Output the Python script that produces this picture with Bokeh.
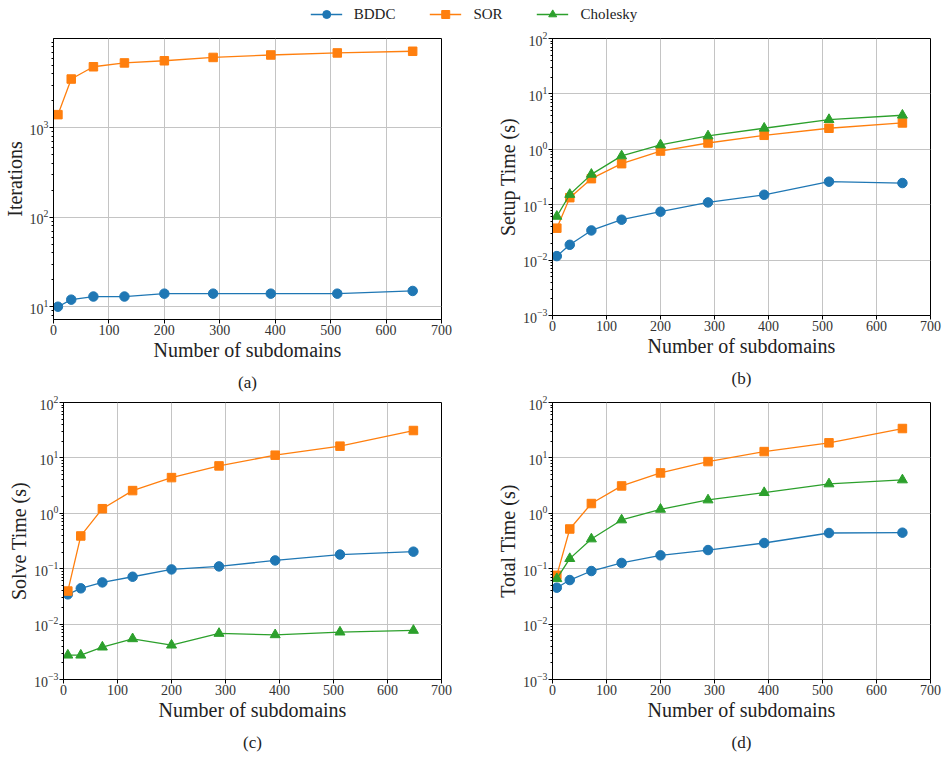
import math
from bokeh.plotting import figure
from bokeh.layouts import column, row
from bokeh.models import (Range1d, ColumnDataSource, Legend, LegendItem,
                          LogTicker, FixedTicker)
from bokeh.embed import file_html
from bokeh.resources import INLINE

# ---------------- data ----------------
subdomains = [8, 32, 72, 128, 200, 288, 392, 512, 648]

iter_bddc = [10, 12, 13, 13, 14, 14, 14, 14, 15]
iter_sor = [1400, 3500, 4800, 5300, 5600, 6100, 6500, 6850, 7150]

setup_bddc = [0.0118, 0.0189, 0.0343, 0.0536, 0.0747, 0.110, 0.151, 0.26, 0.246]
setup_sor = [0.0377, 0.134, 0.295, 0.55, 0.93, 1.3, 1.79, 2.4, 2.99]
setup_chol = [0.0616, 0.153, 0.353, 0.76, 1.2, 1.74, 2.4, 3.44, 4.12]

solve_bddc = [0.0344, 0.0442, 0.0566, 0.0716, 0.097, 0.110, 0.141, 0.18, 0.203]
solve_sor = [0.0395, 0.39, 1.21, 2.57, 4.41, 7.17, 11.2, 16.3, 31.2]
solve_chol = [0.00275, 0.00275, 0.00384, 0.00543, 0.00417, 0.00678, 0.00641, 0.00717, 0.00769]

total_bddc = [0.0454, 0.0624, 0.0908, 0.127, 0.174, 0.217, 0.291, 0.441, 0.447]
total_sor = [0.0758, 0.521, 1.5, 3.12, 5.36, 8.58, 13.0, 18.7, 33.9]
total_chol = [0.066, 0.152, 0.344, 0.758, 1.18, 1.74, 2.36, 3.39, 4.0]

x_ticks = [0, 100, 200, 300, 400, 500, 600, 700]
series_names = ["BDDC", "SOR", "Cholesky"]
colors = ["#1f77b4", "#ff7f0e", "#2ca02c"]
markers = ["circle", "square", "triangle"]
msizes = [9.5, 8.5, 10]

FONT = "Liberation Serif"
LW = 1.3


def make_panel(ylabel, caption, series, yr, bl, fw, br, bt, fh, bb):
    p = figure(frame_width=fw, frame_height=fh, y_axis_type="log",
               x_range=Range1d(0, 700), y_range=Range1d(*yr),
               output_backend="svg", toolbar_location=None,
               min_border_left=bl, min_border_right=br,
               min_border_top=bt, min_border_bottom=bb,
               title=caption, title_location="below")
    p.title.align = "center"
    p.title.text_font = FONT
    p.title.text_font_size = "17px"
    p.title.text_font_style = "normal"
    p.title.text_color = "#222222"
    p.title.standoff = 14
    p.outline_line_color = "black"
    p.outline_line_width = 1
    p.background_fill_color = "white"
    p.border_fill_color = "white"
    for ax in (p.xaxis, p.yaxis):
        ax.axis_line_color = "black"
        ax.major_tick_line_color = "black"
        ax.major_tick_out = 4
        ax.major_tick_in = 0
        ax.minor_tick_out = 2
        ax.minor_tick_in = 0
        ax.major_label_text_font = FONT
        ax.major_label_text_font_size = "14px"
        ax.major_label_text_color = "#333333"
        ax.axis_label_text_font = FONT
        ax.axis_label_text_font_size = "20px"
        ax.axis_label_text_font_style = "normal"
        ax.axis_label_text_color = "#222222"
        ax.major_label_standoff = 1
        ax.axis_label_standoff = 1
    p.xaxis.ticker = FixedTicker(ticks=x_ticks)
    p.xaxis.minor_tick_line_color = None
    p.xaxis.axis_label = "Number of subdomains"
    p.yaxis.axis_label = ylabel
    p.yaxis.ticker = LogTicker(num_minor_ticks=10, desired_num_ticks=6)
    p.yaxis.minor_tick_line_color = "black"
    p.grid.grid_line_color = "#c4c4c4"
    p.grid.grid_line_width = 1
    p.ygrid.ticker = p.yaxis.ticker
    p.xgrid.ticker = p.xaxis.ticker
    for vals, c, m, s in series:
        src = ColumnDataSource(data=dict(x=subdomains, y=vals))
        p.line("x", "y", source=src, line_color=c, line_width=LW)
        p.scatter("x", "y", source=src, marker=m, size=s,
                  fill_color=c, line_color=c)
    return p


lo = math.log10(min(iter_bddc))
hi = math.log10(max(iter_sor))
span = hi - lo
yr_a = (10 ** (lo - 0.05 * span), 10 ** (hi + 0.05 * span))

S = list(zip(colors, markers, msizes))

pa = make_panel("Iterations", "(a)",
                [(iter_bddc,) + S[0], (iter_sor,) + S[1]],
                yr_a, 53, 388, 32, 5, 281, 76)
pb = make_panel("Setup Time (s)", "(b)",
                [(setup_bddc,) + S[0], (setup_sor,) + S[1], (setup_chol,) + S[2]],
                (1e-3, 1e2), 79, 378, 17, 10, 277, 75)
pc = make_panel("Solve Time (s)", "(c)",
                [(solve_bddc,) + S[0], (solve_sor,) + S[1], (solve_chol,) + S[2]],
                (1e-3, 1e2), 63, 378, 32, 8, 277, 82)
pd = make_panel("Total Time (s)", "(d)",
                [(total_bddc,) + S[0], (total_sor,) + S[1], (total_chol,) + S[2]],
                (1e-3, 1e2), 79, 378, 17, 8, 277, 82)

# legend strip: the series are drawn outside its visible ranges, only the
# legend entries show
pl = figure(width=947, height=28, x_range=Range1d(-2000, -1000),
            y_range=Range1d(-2, -1),
            x_axis_type=None, y_axis_type=None, output_backend="svg",
            toolbar_location=None, min_border=0)
pl.outline_line_color = None
items = []
for name, vals, c, m, s in zip(series_names, [total_bddc, total_sor, total_chol],
                               colors, markers, msizes):
    src = ColumnDataSource(data=dict(x=subdomains, y=vals))
    r1 = pl.line("x", "y", source=src, line_color=c, line_width=LW)
    r2 = pl.scatter("x", "y", source=src, marker=m, size=s + 4,
                    fill_color=c, line_color=c)
    items.append(LegendItem(label=name, renderers=[r1, r2]))
leg = Legend(items=items, orientation="horizontal", location="center",
             border_line_color=None, background_fill_alpha=0,
             glyph_width=32, glyph_height=20, spacing=34, label_standoff=12,
             label_text_font=FONT, label_text_font_size="15px",
             label_text_color="#222222", padding=0, margin=0)
pl.add_layout(leg, "center")

layout = column(pl, row(pa, pb), row(pc, pd))
open("out.html", "w").write(file_html(layout, INLINE))
